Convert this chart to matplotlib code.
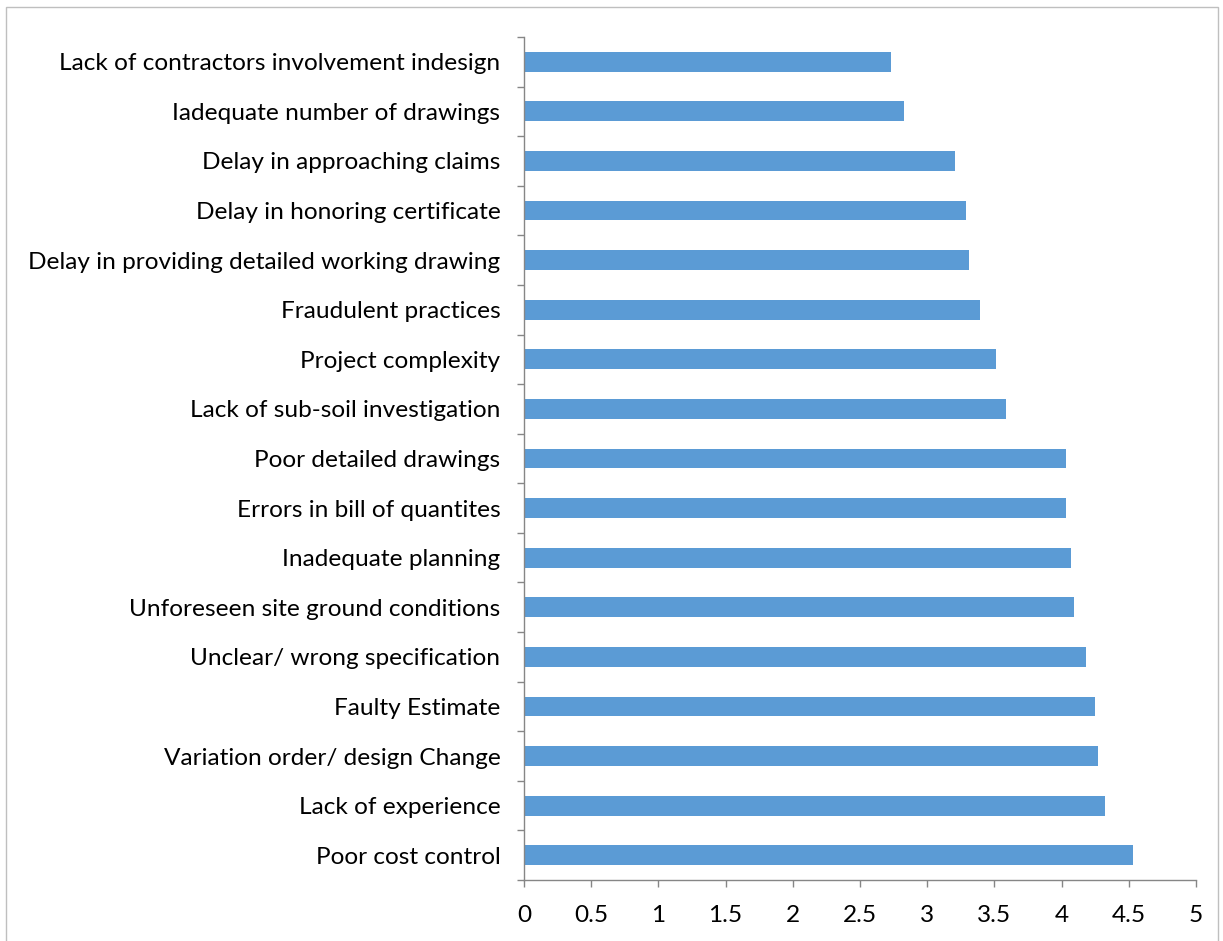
import numpy as np
import matplotlib.pyplot as plt
from matplotlib.patches import Rectangle

plt.rcParams['font.family'] = ['Lato', 'DejaVu Sans']

# factors listed bottom to top
factors = [
    'Poor cost control',
    'Lack of experience',
    'Variation order/ design Change',
    'Faulty Estimate',
    'Unclear/ wrong specification',
    'Unforeseen site ground conditions',
    'Inadequate planning',
    'Errors in bill of quantites',
    'Poor detailed drawings',
    'Lack of sub-soil investigation',
    'Project complexity',
    'Fraudulent practices',
    'Delay in providing detailed working drawing',
    'Delay in honoring certificate',
    'Delay in approaching claims',
    'Iadequate number of drawings',
    'Lack of contractors involvement indesign',
]
scores = [4.53, 4.32, 4.27, 4.25, 4.18, 4.09, 4.07, 4.03, 4.03,
          3.59, 3.51, 3.39, 3.31, 3.29, 3.21, 2.83, 2.73]
xticks = [0, 0.5, 1, 1.5, 2, 2.5, 3, 3.5, 4, 4.5, 5]

fig = plt.figure(figsize=(12.23, 9.41), dpi=100)
ax = fig.add_axes([524 / 1223, 61 / 941, 672 / 1223, 843 / 941])

y = np.arange(len(factors))
ax.barh(y, scores, height=0.4, color='#5B9BD5')

ax.set_xlim(0, 5)
ax.set_ylim(-0.5, len(factors) - 0.5)
ax.set_xticks(xticks)
ax.set_xticklabels([f'{t:g}' for t in xticks])
ax.set_yticks(y)
ax.set_yticklabels(factors)
ax.set_yticks(np.arange(-0.5, len(factors)), minor=True)

axis_gray = '#868686'
for side in ['top', 'right']:
    ax.spines[side].set_visible(False)
for side in ['left', 'bottom']:
    ax.spines[side].set_color(axis_gray)
    ax.spines[side].set_linewidth(1.0)

ax.tick_params(axis='y', which='major', length=0, pad=17, labelsize=17.6,
               labelcolor='black')
ax.tick_params(axis='y', which='minor', length=5, color=axis_gray, width=1)
ax.tick_params(axis='x', which='major', length=5, color=axis_gray, width=1,
               pad=13, labelsize=17.6, labelcolor='black')

# outer chart border
fig.patches.append(Rectangle((6 / 1223, -0.01), 1212 / 1223, 1.01 - 7 / 941,
                             transform=fig.transFigure, fill=False,
                             edgecolor='#bfbfbf', linewidth=1))

fig.savefig('out.png', dpi=100)
